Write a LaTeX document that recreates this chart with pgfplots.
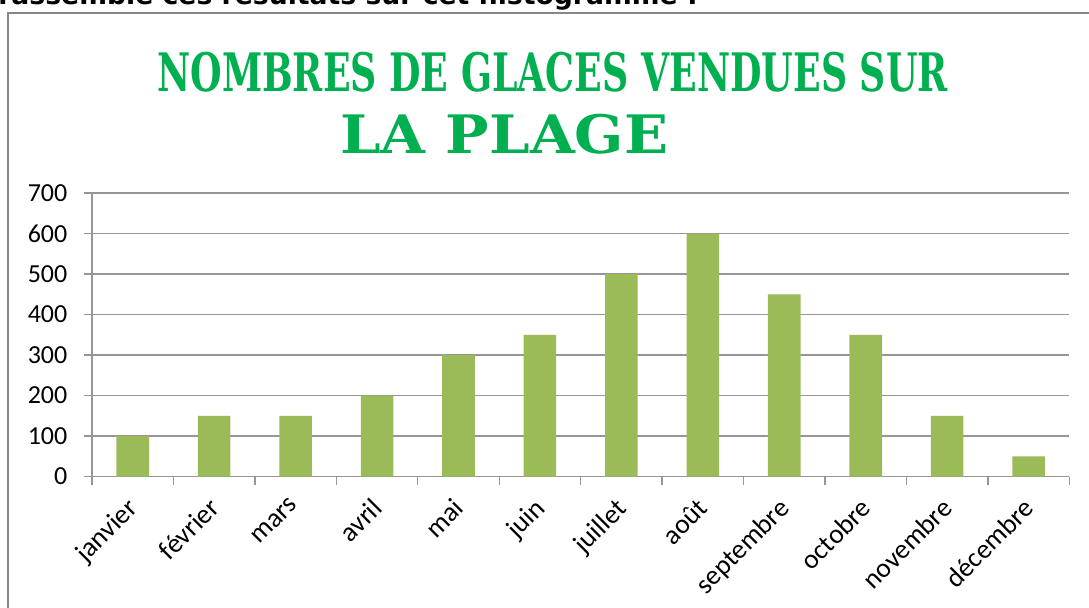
\documentclass[border=0pt]{standalone}
\usepackage{pgfplots}
\pgfplotsset{compat=1.18}
\usepackage{fontspec}
\setmainfont{Carlito}
\newfontfamily\titlefont{DejaVu Serif}
\newfontfamily\topfont{DejaVu Sans}
\definecolor{bargreen}{HTML}{9BBB59}
\definecolor{titlegreen}{HTML}{00B050}
\definecolor{gridgray}{RGB}{150,150,150}
\definecolor{framegray}{RGB}{135,135,135}
\begin{document}
\begin{tikzpicture}[x=0.75pt,y=0.75pt]
\useasboundingbox (0,0) rectangle (1089,607);
% partially visible text line above the chart
\node[anchor=base east,inner sep=0pt,font=\topfont\bfseries\fontsize{20pt}{22pt}\selectfont] at (698,602) {rassemble ces résultats sur cet histogramme :};
% chart frame
\draw[framegray,line width=1.5pt] (8,-40) -- (8,594) -- (1120,594);
% title
\node[anchor=north west,inner sep=0pt,text=titlegreen] at (157,555) {\resizebox{593pt}{29.5pt}{\titlefont\bfseries NOMBRES DE GLACES VENDUES SUR}};
\node[anchor=north west,inner sep=0pt,text=titlegreen] at (340,493) {\resizebox{246pt}{29.5pt}{\titlefont\bfseries LA PLAGE}};
\begin{axis}[
  at={(69pt,97.875pt)}, anchor=south west,
  scale only axis,
  width=733pt, height=212.6pt,
  xmin=-0.5, xmax=11.5,
  ymin=0, ymax=700,
  ytick={0,100,...,700},
  ymajorgrids,
  grid style={gridgray,line width=1pt},
  axis x line*=bottom,
  axis y line*=left,
  axis line style={gridgray,line width=1pt},
  every tick/.style={gridgray,line width=1pt},
  tick align=outside,
  major tick length=6pt,
  xtick={-0.5,0.5,1.5,2.5,3.5,4.5,5.5,6.5,7.5,8.5,9.5,10.5,11.5},
  xticklabels={},
  extra x ticks={0,1,2,3,4,5,6,7,8,9,10,11},
  extra x tick labels={janvier,février,mars,avril,mai,juin,juillet,août,septembre,octobre,novembre,décembre},
  extra x tick style={major tick length=0pt, grid=none},
  xticklabel shift=15pt,
  xticklabel style={xshift=-5pt,rotate=45,anchor=north east,font=\fontsize{20.5pt}{22pt}\selectfont,inner sep=0pt},
  yticklabel style={font=\fontsize{19.5pt}{22pt}\selectfont,xshift=-9pt},
  /pgf/number format/assume math mode=true,
  ybar, bar width=0.4,
]
\addplot[fill=bargreen,draw=none] coordinates {
(0,100) (1,150) (2,150) (3,200) (4,300) (5,350)
(6,500) (7,600) (8,450) (9,350) (10,150) (11,50)
};
\end{axis}
\end{tikzpicture}
\end{document}
